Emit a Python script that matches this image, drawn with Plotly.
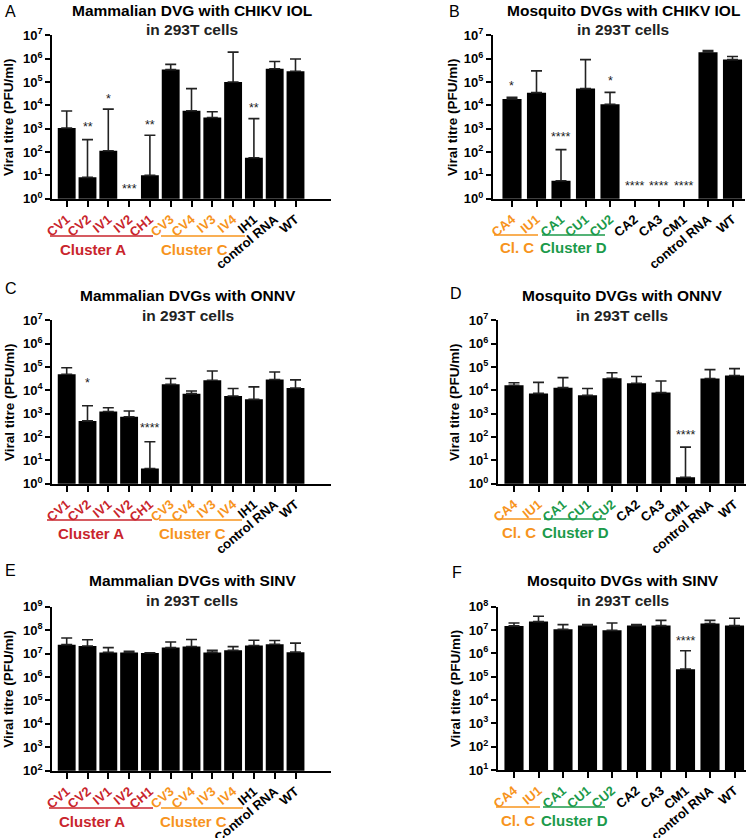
import plotly.graph_objects as go

# ---- data ----
mam_labels = ['CV1', 'CV2', 'IV1', 'IV2', 'CH1', 'CV3', 'CV4', 'IV3', 'IV4', 'IH1', 'control RNA', 'WT']
mam_labels_e = ['CV1', 'CV2', 'IV1', 'IV2', 'CH1', 'CV3', 'CV4', 'IV3', 'IV4', 'IH1', 'Control RNA', 'WT']
mos_labels = ['CA4', 'IU1', 'CA1', 'CU1', 'CU2', 'CA2', 'CA3', 'CM1', 'control RNA', 'WT']

mam_groups = ['A'] * 5 + ['C'] * 4 + ['none'] * 3
mos_groups = ['C'] * 2 + ['D'] * 3 + ['none'] * 5

# panel A: mammalian DVGs with CHIKV IOL
a_mean = [1070, 8.2, 114, None, 10, 340000, 5900, 3000, 100000, 57, 370000, 290000]
a_top = [5700, 340, 6900, None, 520, 570000, 52000, 5300, 1900000, 2700, 750000, 970000]
# panel B: mosquito DVGs with CHIKV IOL
b_mean = [18600, 35000, 5.9, 52000, 11000, None, None, None, 1870000, 910000]
b_top = [22000, 300000, 126, 910000, 36000, None, None, None, 2200000, 1230000]
# panel C: mammalian DVGs with ONNV
c_mean = [49000, 490, 1230, 740, 4.5, 18000, 7200, 27000, 5700, 4100, 29000, 12600]
c_top = [93000, 2200, 1800, 1300, 63, 32000, 9400, 67000, 12000, 14000, 61000, 28000]
# panel D: mosquito DVGs with ONNV
d_mean = [16500, 7400, 13000, 6100, 33000, 20000, 8000, 1.9, 32000, 43000]
d_top = [21000, 22000, 35000, 12000, 57000, 39000, 25000, 37, 77000, 85000]
# panel E: mammalian DVGs with SINV
e_mean = [2.4e7, 2.1e7, 1.12e7, 1.12e7, 1.05e7, 1.8e7, 2.0e7, 1.12e7, 1.37e7, 2.2e7, 2.5e7, 1.15e7]
e_top = [4.6e7, 3.9e7, 1.8e7, 1.24e7, 1.09e7, 3.1e7, 4.0e7, 1.37e7, 1.97e7, 3.7e7, 3.6e7, 2.8e7]
# panel F: mosquito DVGs with SINV
f_mean = [1.5e7, 2.3e7, 1.07e7, 1.55e7, 9.7e6, 1.55e7, 1.55e7, 2.1e5, 1.9e7, 1.55e7]
f_top = [2.0e7, 3.9e7, 1.7e7, 1.7e7, 2.0e7, 1.7e7, 2.6e7, 1.3e6, 2.6e7, 3.2e7]

# significance marks: (bar index, text, log10 height)
a_stars = [(1, '**', 3.06), (2, '*', 4.29), (3, '***', 0.41), (4, '**', 3.17), (9, '**', 3.89)]
b_stars = [(0, '*', 4.81), (2, '****', 2.63), (4, '*', 5.06), (5, '****', 0.53), (6, '****', 0.53), (7, '****', 0.53)]
c_stars = [(1, '*', 4.31), (4, '****', 2.39)]
d_stars = [(7, '****', 2.07)]
e_stars = []
f_stars = [(7, '****', 6.51)]

RED = '#C9252C'
ORANGE = '#F7941D'
GREEN = '#1B9A4A'
GROUP_COL = {'A': RED, 'C': ORANGE, 'D': GREEN, 'none': 'black'}

W, H = 751, 838
FONT = 'Liberation Sans'

def px_x(x):
    return x / W

def px_y(y):
    return 1 - y / H

# geometry of each panel in page pixels
panels = [
    dict(letter='A', title='Mammalian DVG with CHIKV IOL', labels=mam_labels, groups=mam_groups,
         mean=a_mean, top=a_top, stars=a_stars, yr=(0, 7),
         x0=52.3, x1=331, y0=35.3, y1=198.7, first=66.7, step=20.8, bw=0.86,
         lx=3, ly=12, tx=192, ty=10, ylx=9,
         clusters=[('Cluster A', RED, 50, 153, 93), ('Cluster C', ORANGE, 161, 245, 194)], cly=236),
    dict(letter='B', title='Mosquito DVGs with CHIKV IOL', labels=mos_labels, groups=mos_groups,
         mean=b_mean, top=b_top, stars=b_stars, yr=(0, 7),
         x0=493, x1=745, y0=35.3, y1=198.7, first=512, step=24.5, bw=0.78,
         lx=447, ly=12, tx=623, ty=10, ylx=453,
         clusters=[('Cl. C', ORANGE, 494, 538, 517), ('Cluster D', GREEN, 542, 605, 573)], cly=235),
    dict(letter='C', title='Mammalian DVGs with ONNV', labels=mam_labels, groups=mam_groups,
         mean=c_mean, top=c_top, stars=c_stars, yr=(0, 7),
         x0=52.3, x1=331, y0=320.3, y1=483.7, first=66.7, step=20.8, bw=0.86,
         lx=3, ly=288, tx=188, ty=295, ylx=9,
         clusters=[('Cluster A', RED, 47, 152, 91), ('Cluster C', ORANGE, 159, 242, 192)], cly=520),
    dict(letter='D', title='Mosquito DVGs with ONNV', labels=mos_labels, groups=mos_groups,
         mean=d_mean, top=d_top, stars=d_stars, yr=(0, 7),
         x0=498, x1=746, y0=320.3, y1=483.7, first=514, step=24.5, bw=0.78,
         lx=448, ly=293, tx=622, ty=295, ylx=454,
         clusters=[('Cl. C', ORANGE, 497, 541, 519), ('Cluster D', GREEN, 544, 606, 575)], cly=519),
    dict(letter='E', title='Mammalian DVGs with SINV', labels=mam_labels_e, groups=mam_groups,
         mean=e_mean, top=e_top, stars=e_stars, yr=(2, 9),
         x0=52.3, x1=331, y0=606.7, y1=770.7, first=66.7, step=20.8, bw=0.86,
         lx=3, ly=570, tx=192, ty=580, ylx=9,
         clusters=[('Cluster A', RED, 49, 153, 92), ('Cluster C', ORANGE, 161, 243, 193)], cly=808),
    dict(letter='F', title='Mosquito DVGs with SINV', labels=mos_labels, groups=mos_groups,
         mean=f_mean, top=f_top, stars=f_stars, yr=(1, 8),
         x0=498, x1=746, y0=606.7, y1=770, first=514, step=24.5, bw=0.78,
         lx=450, ly=572, tx=623, ty=580, ylx=455,
         clusters=[('Cl. C', ORANGE, 496, 540, 518), ('Cluster D', GREEN, 543, 605, 574)], cly=807),
]

fig = go.Figure()
annotations = []
shapes = []

for i, p in enumerate(panels):
    n = i + 1
    xa = 'xaxis' if n == 1 else f'xaxis{n}'
    ya = 'yaxis' if n == 1 else f'yaxis{n}'
    xr = 'x' if n == 1 else f'x{n}'
    yr = 'y' if n == 1 else f'y{n}'
    idx = list(range(len(p['labels'])))

    err = [None if m is None else t - m for m, t in zip(p['mean'], p['top'])]
    fig.add_trace(go.Bar(
        x=idx, y=p['mean'], xaxis=xr, yaxis=yr,
        width=p['bw'], marker=dict(color='black', line=dict(width=0)),
        error_y=dict(type='data', array=err, symmetric=False,
                     arrayminus=[0] * len(idx), color='#222222', thickness=1.6, width=5.5),
        showlegend=False,
    ))

    left = -(p['first'] - p['x0']) / p['step']
    right = left + (p['x1'] - p['x0']) / p['step']
    ticktext = [f"<span style='color:{GROUP_COL[g]}'>{lab}</span>" for lab, g in zip(p['labels'], p['groups'])]
    fig.layout[xa] = dict(
        domain=[px_x(p['x0']), px_x(p['x1'])], anchor=yr, range=[left, right],
        tickvals=idx, ticktext=ticktext, tickangle=-40, automargin=False,
        showline=True, linecolor='black', linewidth=2.2,
        ticks='outside', ticklen=6, tickwidth=2, tickcolor='black',
        tickfont=dict(family=FONT, size=13, weight='bold'),
        showgrid=False, zeroline=False, fixedrange=True,
    )
    lo, hi = p['yr']
    fig.layout[ya] = dict(
        domain=[px_y(p['y1']), px_y(p['y0'])], anchor=xr, type='log', range=[lo, hi],
        tickvals=[10 ** k for k in range(lo, hi + 1)],
        ticktext=[f'10<sup>{k}</sup>' for k in range(lo, hi + 1)], automargin=False,
        showline=True, linecolor='black', linewidth=2.2,
        ticks='outside', ticklen=5, tickwidth=2, tickcolor='black',
        tickfont=dict(family=FONT, size=13, weight='bold', color='black'),
        showgrid=False, zeroline=False, fixedrange=True,
    )

    # significance stars
    for k, txt, yv in p['stars']:
        annotations.append(dict(x=k, y=yv, xref=xr, yref=yr, text=txt, showarrow=False,
                                font=dict(family=FONT, size=12.5, color='#1a1a1a'),
                                xanchor='center', yanchor='middle'))

    # panel letter and titles
    annotations.append(dict(x=px_x(p['lx']), y=px_y(p['ly']), xref='paper', yref='paper',
                            text=p['letter'], showarrow=False, xanchor='left', yanchor='middle',
                            font=dict(family=FONT, size=16, color='black')))
    annotations.append(dict(x=px_x(p['tx']), y=px_y(p['ty']), xref='paper', yref='paper',
                            text=p['title'], showarrow=False, xanchor='center', yanchor='middle',
                            font=dict(family=FONT, size=15.5, weight='bold', color='black')))
    annotations.append(dict(x=px_x(p['tx']), y=px_y(p['ty'] + 20), xref='paper', yref='paper',
                            text='in 293T cells', showarrow=False, xanchor='center', yanchor='middle',
                            font=dict(family=FONT, size=15.5, weight='bold', color='#222222')))
    # y-axis title
    annotations.append(dict(x=px_x(p['ylx']), y=px_y((p['y0'] + p['y1']) / 2), xref='paper', yref='paper',
                            text='Viral titre (PFU/ml)', showarrow=False, textangle=-90,
                            xanchor='center', yanchor='middle',
                            font=dict(family=FONT, size=13.5, weight='bold', color='black')))

    # cluster brackets
    for name, col, cx0, cx1, cxt in p['clusters']:
        shapes.append(dict(type='line', xref='paper', yref='paper',
                           x0=px_x(cx0), x1=px_x(cx1), y0=px_y(p['cly']), y1=px_y(p['cly']),
                           line=dict(color=col, width=1.5)))
        annotations.append(dict(x=px_x(cxt), y=px_y(p['cly'] + 13), xref='paper', yref='paper',
                                text=name, showarrow=False, xanchor='center', yanchor='middle',
                                font=dict(family=FONT, size=15, weight='bold', color=col)))

fig.update_layout(
    width=W, height=H, margin=dict(l=0, r=0, t=0, b=0, autoexpand=False),
    paper_bgcolor='white', plot_bgcolor='white',
    bargap=0.1, showlegend=False,
    annotations=annotations, shapes=shapes,
)

# page body has a default 8px margin; drop it so the figure sits at the window corner
fig.write_html("out.html", config={'displayModeBar': False},
               post_script="document.body.style.margin='0';document.body.style.overflow='hidden';")
